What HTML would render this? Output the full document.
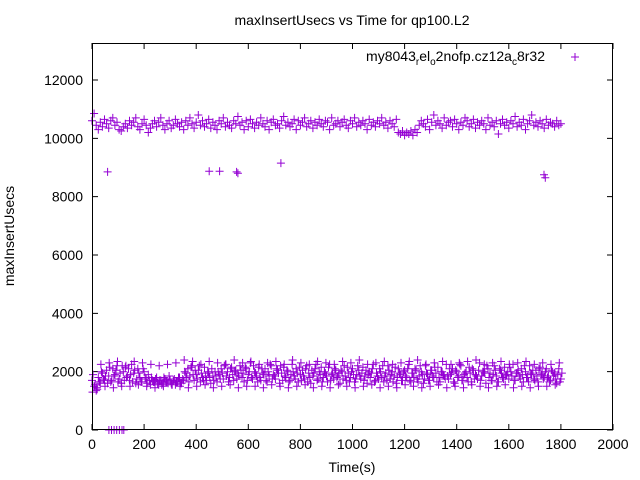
<!DOCTYPE html>
<html><head><meta charset="utf-8"><style>
html,body{margin:0;padding:0;background:#fff;}
svg{display:block;font-family:"Liberation Sans",sans-serif;}
</style></head><body>
<svg id="chart" width="640" height="480" viewBox="0 0 640 480">
<rect x="0" y="0" width="640" height="480" fill="#fff"/>
<text x="352" y="25" font-size="14" text-anchor="middle">maxInsertUsecs vs Time for qp100.L2</text>
<text transform="translate(14,236) rotate(-90)" font-size="14" text-anchor="middle">maxInsertUsecs</text>
<text x="352" y="472" font-size="14" text-anchor="middle">Time(s)</text>
<g id="ticks"></g>
<g id="marks"></g>
<rect x="92.5" y="43.5" width="520" height="386" fill="none" stroke="#000" stroke-width="1"/>
<g>
<text x="545" y="61" font-size="14" text-anchor="end">my8043<tspan font-size="10" dy="4">r</tspan><tspan dy="-4">el</tspan><tspan font-size="10" dy="4">o</tspan><tspan dy="-4">2nofp.cz12a</tspan><tspan font-size="10" dy="4">c</tspan><tspan dy="-4">8r32</tspan></text>
<path d="M571 57h8M575 53v8" stroke="#9400d3" stroke-width="1"/>
</g>
</svg>
<script>
const xTicks=[0,200,400,600,800,1000,1200,1400,1600,1800,2000];
const yTicks=[0,2000,4000,6000,8000,10000,12000];
const highStart=0, step=8;
const highVals=[10600,10850,10450,10300,10550,10400,10650,10500,10350,10600,
10700,10450,10550,10300,10250,10400,10500,10350,10600,10450,
10550,10700,10400,10300,10500,10650,10450,10200,10350,10500,
10600,10400,10550,10700,10450,10300,10500,10600,10350,10450,
10650,10500,10400,10550,10300,10600,10450,10700,10500,10350,
10550,10800,10450,10600,10400,10500,10650,10350,10550,10450,
10300,10600,10500,10700,10400,10550,10450,10350,10600,10500,
10750,10450,10550,10300,10600,10400,10650,10500,10350,10550,
10450,10700,10500,10400,10600,10300,10550,10650,10450,10500,
10350,10600,10750,10450,10550,10400,10500,10650,10300,10600,
10450,10550,10700,10400,10500,10600,10350,10550,10450,10650,
10500,10400,10600,10550,10300,10700,10450,10500,10600,10400,
10550,10650,10450,10350,10600,10500,10700,10400,10550,10450,
10600,10500,10300,10650,10450,10550,10400,10600,10500,10700,
10450,10550,10350,10600,10500,10400,10650,10200,10150,10250,
10100,10200,10150,10250,10100,10300,10200,10450,10600,10500,
10400,10650,10300,10550,10800,10450,10600,10500,10350,10700,
10450,10550,10600,10400,10650,10500,10300,10550,10450,10700,
10600,10400,10500,10650,10350,10550,10450,10600,10500,10300,
10700,10450,10550,10400,10600,10150,10500,10650,10450,10550,
10350,10600,10500,10750,10400,10550,10450,10650,10300,10500,
10600,10800,10450,10550,10400,10600,10500,10350,10650,10450,
10550,10500,10400,10600,10450,10500];
const lowAVals=[1700,1500,1350,1800,1600,1950,1700,2050,1850,1650,
2100,1900,2200,1750,1600,2000,2150,1850,1700,2250,
1950,1600,2100,1800,1650,2000,1750,1900,1550,1700,
1650,1800,1550,1700,1600,1750,1650,1850,1600,1700,
1550,1650,1800,1600,1700,1950,2100,1850,2200,1700,
1900,2050,1650,1800,2150,1700,1950,1600,1850,2000,
1650,1900,2100,1750,2250,2000,1800,2150,1700,2050,
1950,2200,1800,1650,2100,1900,2300,1750,2000,1850,
2150,1700,1950,2100,1650,1850,2200,1900,1750,2050,
1600,1950,2150,1800,2000,1700,2250,1850,2100,1650,
1900,2050,1750,2200,1950,1600,1850,2100,1700,2000,
2150,1800,1950,1650,2250,1900,1750,2050,1850,1600,
2000,2200,1700,1950,1800,2100,1650,1900,2050,1750,
2150,1850,1600,2000,1950,2250,1700,1850,2100,1800,
1650,1950,2200,1750,2000,1850,1600,2100,1900,1700,
2050,1800,2250,1650,1950,2100,1750,1850,2000,1600,
2200,1900,1700,2050,1800,1950,2150,1650,2000,1850,
2250,1750,1900,2100,1600,2000,1850,2200,1700,1950,
1800,2150,1650,2050,1900,1750,2300,1850,2000,1600,
2100,1950,1700,2200,1850,1650,2050,1800,2150,1900,
1750,2000,2250,1700,1950,1850,2100,1650,2000,1800,
2200,1900,1750,2050,1650,2150,1950,1800,2100,1850,
1700,2000,1950,1600,2100,1750];
const lowBVals=[1900,1550,1400,1650,2000,1750,1850,1600,2150,1700,
1850,2050,1650,1950,2200,1700,1800,2100,1900,1650,
2050,1750,1950,1650,2100,1800,1600,1700,1800,1650,
1750,1600,1700,1550,1800,1650,1600,1700,1550,1750,
1650,1800,1600,1750,2000,1800,1650,2150,1900,2050,
1750,2200,1950,1700,1850,2000,1800,2100,1700,1850,
2000,1750,1950,2200,1850,1650,2100,1900,2000,1750,
1850,2050,1950,2150,1700,2000,1800,2200,1950,1650,
1800,2100,1900,1700,2000,2250,1750,1850,2100,1950,
2200,1700,1850,2050,1650,1900,2000,1750,1950,2150,
1700,1850,2100,1650,1800,2050,1950,2250,1750,1900,
1650,2000,1850,2150,1700,1950,2100,1800,1950,2050,
1750,1850,2150,1650,2000,1900,1750,2200,1850,1950,
1700,2050,1900,1800,2100,1650,1950,1750,2000,2200,
1850,1700,2050,1900,1650,2150,1800,1950,1700,2000,
1850,2100,1700,1950,1800,2050,1650,2200,1900,1750,
1950,1700,2050,1850,2150,1650,1800,2000,1900,1750,
1850,2100,1950,1650,2050,1800,2250,1700,1900,2000,
1650,1950,2100,1750,1850,2050,1700,2000,1950,2200,
1800,1700,1900,2050,1650,2100,1950,1750,1850,2000,
2150,1850,1700,1950,2050,1750,1900,2200,1800,1650,
1950,2050,1700,1850,2100,1900,1750,2000,1800,1650,
2050,1850,1750,1900,1650,1950];
const lowCVals=[1300,1450,2250,1500,2300,1450,2350,1500,2200,1500,
2350,1550,2300,1500,2250,1450,2200,1500,2250,1550,
2300,1500,2400,1450,2350,1500,2250,1550,2350,1450,
2300,1500,2250,1550,2400,1450,2300,1500,2350,1500,
2250,1450,2300,1550,2350,1500,2250,1450,2400,1500,
2300,1550,2250,1450,2350,1500,2300,1450,2250,1550,
2350,1500,2300,1450,2400,1500,2250,1550,2300,1450,
2350,1500,2250,1450,2300,1550,2350,1500,2400,1450,
2250,1500,2300,1550,2350,1450,2250,1500,2300,1450,
2350,1550,2400,1500,2250,1450,2300,1500,2350,1550,
2250,1450,2300,1500,2350,1450,2250,1500,2300,1500,
2250,1550,2300];
const outlierTimes=[60,450,490,555,560,725,1735,1740];
const outlierVals=[8850,8870,8870,8850,8800,9150,8750,8650];
const zeroTimes=[65,75,85,95,105,115,122];
const zeroVals=[0,0,0,0,0,0,0];

const X0=92,X1=613,Y0=430,YTOP=43;
function xs(v){return X0+(v-0)/(2000-0)*(X1-X0);}
function ys(v){return Y0-v/12000*(Y0-80);}
const NS='http://www.w3.org/2000/svg';
const ticks=document.getElementById('ticks');
xTicks.forEach(t=>{
  const x=xs(t);
  const p=document.createElementNS(NS,'path');
  p.setAttribute('d',`M${x} ${Y0}v-6M${x} ${YTOP}v6`);
  p.setAttribute('stroke','#000');
  
  
  ticks.appendChild(p);
  const tx=document.createElementNS(NS,'text');
  tx.setAttribute('x',x);tx.setAttribute('y',449);
  tx.setAttribute('font-size','14');tx.setAttribute('text-anchor','middle');
  tx.textContent=t;
  
  
  ticks.appendChild(tx);
});
yTicks.forEach(t=>{
  const y=ys(t);
  const p=document.createElementNS(NS,'path');
  p.setAttribute('d',`M${X0} ${y}h6M${X1} ${y}h-6`);
  p.setAttribute('stroke','#000');
  
  
  ticks.appendChild(p);
  const tx=document.createElementNS(NS,'text');
  tx.setAttribute('x',83);tx.setAttribute('y',y+5);
  tx.setAttribute('font-size','14');tx.setAttribute('text-anchor','end');
  tx.textContent=t;
  
  
  ticks.appendChild(tx);
});
let d='';
function add(t,v){const x=xs(t),y=ys(v);d+=`M${(x-4).toFixed(1)} ${y.toFixed(1)}h8M${x.toFixed(1)} ${(y-4).toFixed(1)}v8`;}
highVals.forEach((v,i)=>add(highStart+i*step,v));
lowAVals.forEach((v,i)=>add(i*step,v));
lowBVals.forEach((v,i)=>add(i*step+4,v));
lowCVals.forEach((v,i)=>add(i*16+2,v));
outlierTimes.forEach((t,i)=>add(t,outlierVals[i]));
zeroTimes.forEach((t,i)=>add(t,zeroVals[i]));
const path=document.createElementNS(NS,'path');
path.setAttribute('d',d);
path.setAttribute('stroke','#9400d3');
path.setAttribute('stroke-width','1');
path.setAttribute('fill','none');


document.getElementById('marks').appendChild(path);
</script>
</body></html>
